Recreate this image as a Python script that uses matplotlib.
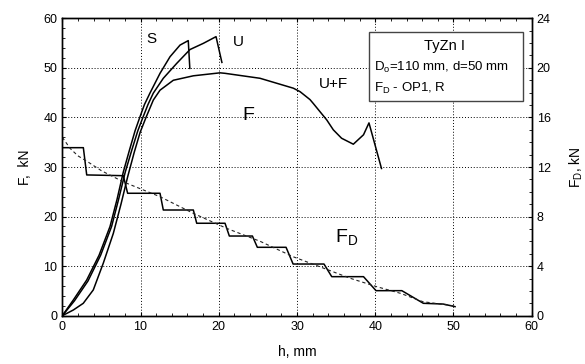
import matplotlib
matplotlib.use("Agg")
import matplotlib.pyplot as plt
from matplotlib.ticker import AutoMinorLocator
from matplotlib.patches import Rectangle

plt.rcParams['font.family'] = ['Liberation Sans', 'DejaVu Sans']
plt.rcParams['mathtext.fontset'] = 'custom'
plt.rcParams['mathtext.rm'] = 'Liberation Sans'
plt.rcParams['mathtext.it'] = 'Liberation Sans:italic'

# ---- data (h in mm, F in kN, FD in kN) ----
s_h = [0, 1.41, 3.12, 4.7, 6.1, 7.0, 7.8, 8.6, 9.3, 9.9, 10.5, 11.2, 12.49, 13.77, 15.05, 16.1, 16.3]
s_F = [0, 3.17, 7.2, 12.2, 18.0, 23.5, 29.0, 33.5, 37.3, 40.0, 42.6, 44.9, 48.9, 52.25, 54.6, 55.5, 49.9]

u_h = [0, 1.55, 3.28, 4.9, 6.3, 7.2, 8.05, 8.9, 9.65, 10.3, 10.95, 11.63, 12.91, 14.62, 16.32,
       18.03, 19.65, 20.4]
u_F = [0, 3.0, 7.0, 12.2, 18.0, 23.5, 29.0, 33.5, 37.3, 40.0, 42.6, 44.9, 47.9, 50.9, 53.7,
       54.95, 56.3, 51.1]

f_h = [0, 1.41, 2.68, 3.96, 5.24, 6.52, 7.5, 8.35, 9.2, 9.95, 10.7, 11.63, 12.49, 14.19, 16.75,
       20.16, 20.8, 25.27, 29.53, 30.39, 31.66, 32.09, 33.8, 34.64, 35.7, 37.2, 38.5, 39.2, 40.8]
f_F = [0, 1.15, 2.5, 5.2, 10.6, 16.6, 22.5, 28.0, 33.0, 37.0, 40.0, 43.5, 45.5, 47.5, 48.4,
       49.0, 48.9, 47.9, 45.9, 45.2, 43.6, 42.8, 39.5, 37.5, 35.8, 34.6, 36.5, 38.9, 29.7]

fd_h = [0, 2.69, 3.12, 7.8, 8.35, 12.49, 12.91, 16.75, 17.18, 20.8, 21.35, 24.3, 24.93,
        28.6, 29.5, 33.45, 34.44, 38.5, 40.1, 43.4, 44.8, 46.15, 48.7, 50.2]
fd_F = [13.56, 13.56, 11.36, 11.3, 9.88, 9.88, 8.53, 8.53, 7.46, 7.46, 6.43, 6.43, 5.52,
        5.52, 4.17, 4.17, 3.15, 3.15, 2.02, 2.02, 1.5, 1.0, 0.94, 0.73]

fit_h = [0, 1, 2, 3.3, 5, 7.8, 12.5, 16.75, 21, 25.3, 29.5, 33.8, 36.8, 40.2, 43.2, 46.1, 50.2]
fit_F = [14.4, 13.5, 12.9, 12.4, 11.7, 10.8, 9.6, 8.26, 7.05, 6.0, 4.76, 3.74, 3.02, 2.34, 1.81, 1.13, 0.78]

x_ticks = [0, 10, 20, 30, 40, 50, 60]
y_ticks = [0, 10, 20, 30, 40, 50, 60]
y2_ticks = [0, 4, 8, 12, 16, 20, 24]

fig = plt.figure(figsize=(5.85, 3.64), dpi=100)
ax = fig.add_axes([0.1065, 0.1327, 0.8024, 0.817])
ax2 = ax.twinx()

lw = 1.1
ax.plot(s_h, s_F, color='black', lw=lw)
ax.plot(u_h, u_F, color='black', lw=lw)
ax.plot(f_h, f_F, color='black', lw=lw)
ax2.plot(fd_h, fd_F, color='black', lw=lw)
ax2.plot(fit_h, fit_F, color='#222222', lw=0.8, linestyle=(0, (3, 2.5)))

ax.set_xlim(0, 60)
ax.set_ylim(0, 60)
ax2.set_ylim(0, 24)
ax.set_xticks(x_ticks)
ax.set_yticks(y_ticks)
ax2.set_yticks(y2_ticks)
ax.xaxis.set_minor_locator(AutoMinorLocator(5))
ax.yaxis.set_minor_locator(AutoMinorLocator(5))
ax2.yaxis.set_minor_locator(AutoMinorLocator(4))

ax.grid(True, which='major', linestyle=(0, (1, 2)), color='black', lw=0.7)

ax.tick_params(which='both', direction='in', top=True, labelsize=9, color='black')
ax.tick_params(which='major', length=3)
ax.tick_params(which='minor', length=2)
ax2.tick_params(which='both', direction='in', labelsize=9)
ax2.tick_params(which='major', length=3)
ax2.tick_params(which='minor', length=2)
ax.tick_params(axis='y', which='both', right=False)

for a in (ax, ax2):
    for sp in a.spines.values():
        sp.set_linewidth(1.0)

ax.set_xlabel('h, mm', fontsize=10, labelpad=9)
ax.set_ylabel('F,  kN', fontsize=10, labelpad=8)
ax2.set_ylabel('F$_\\mathrm{D}$, kN', fontsize=10, labelpad=12)

ax.text(11.4, 55.8, 'S', fontsize=11, ha='center', va='center')
ax.text(22.5, 55.3, 'U', fontsize=11, ha='center', va='center')
ax.text(23.8, 40.3, 'F', fontsize=14, ha='center', va='center')
ax.text(34.6, 46.7, 'U+F', fontsize=11, ha='center', va='center')
ax.text(36.3, 15.9, 'F$_\\mathrm{D}$', fontsize=14, ha='center', va='center')

ax2.add_patch(Rectangle((0.653, 0.723), 0.329, 0.232, transform=ax.transAxes,
                        facecolor='white', edgecolor='#444444', lw=1.0, zorder=5))
ax2.text(0.815, 0.907, 'TyZn I', transform=ax.transAxes, fontsize=10.5,
         ha='center', va='center', zorder=6)
ax2.text(0.665, 0.835, 'D$_\\mathrm{o}$=110 mm, d=50 mm', transform=ax.transAxes,
         fontsize=9.5, ha='left', va='center', zorder=6)
ax2.text(0.665, 0.765, 'F$_\\mathrm{D}$ - OP1, R', transform=ax.transAxes,
         fontsize=9.5, ha='left', va='center', zorder=6)

fig.savefig('out.png', dpi=100)
